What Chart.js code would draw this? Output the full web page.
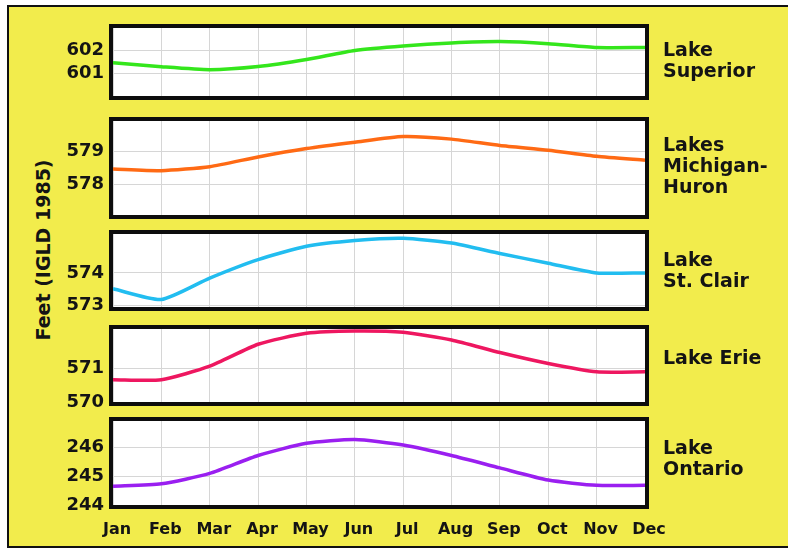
<!DOCTYPE html>
<html>
<head>
<meta charset="utf-8">
<script src="https://cdn.jsdelivr.net/npm/chart.js@4"></script>
<style>
  html, body { margin: 0; padding: 0; background: #ffffff; }
  #wrap { position: relative; width: 788px; height: 550px; overflow: hidden; background: #ffffff; }
  #frame { position: absolute; left: 7px; top: 5px; width: 781px; height: 543px; box-sizing: border-box;
           background: #f2ec4c; border-top: 2px solid #111; border-left: 2px solid #111; border-bottom: 2px solid #111; }
  canvas { position: absolute; }
  .lake { position: absolute; left: 663px; font-family: "DejaVu Sans", sans-serif; font-weight: bold;
          font-size: 19px; line-height: 21px; color: #141414; white-space: nowrap; }
  #ytitle { position: absolute; left: 43px; top: 250px; transform: translate(-50%, -50%) rotate(-90deg);
            font-family: "DejaVu Sans", sans-serif; font-weight: bold; font-size: 19px; color: #141414; white-space: nowrap; }
</style>
</head>
<body>
<div id="wrap">
  <div id="frame"></div>
  <div id="ytitle">Feet (IGLD 1985)</div>
  <canvas id="c1"></canvas>
  <canvas id="c2"></canvas>
  <canvas id="c3"></canvas>
  <canvas id="c4"></canvas>
  <canvas id="c5"></canvas>
  <div class="lake" style="top:39px">Lake<br>Superior</div>
  <div class="lake" style="top:134px">Lakes<br>Michigan-<br>Huron</div>
  <div class="lake" style="top:249px">Lake<br>St. Clair</div>
  <div class="lake" style="top:347px">Lake Erie</div>
  <div class="lake" style="top:437px">Lake<br>Ontario</div>
</div>
<script>
// ---- data ----
const months = ['Jan','Feb','Mar','Apr','May','Jun','Jul','Aug','Sep','Oct','Nov','Dec'];
const superior      = [601.47, 601.29, 601.16, 601.30, 601.61, 602.01, 602.21, 602.34, 602.40, 602.31, 602.14, 602.14];
const michiganHuron = [578.47, 578.42, 578.54, 578.83, 579.08, 579.27, 579.44, 579.36, 579.17, 579.03, 578.85, 578.73];
const stClair       = [573.51, 573.18, 573.84, 574.41, 574.82, 575.00, 575.07, 574.92, 574.60, 574.30, 574.00, 574.00];
const erie          = [570.67, 570.67, 571.08, 571.74, 572.07, 572.14, 572.10, 571.87, 571.49, 571.16, 570.91, 570.91];
const ontario       = [244.65, 244.73, 245.09, 245.71, 246.13, 246.26, 246.07, 245.71, 245.28, 244.86, 244.68, 244.68];

const superiorTicks = [601, 602];
const michiganTicks = [578, 579];
const stClairTicks  = [573, 574];
const erieTicks     = [570, 571];
const ontarioTicks  = [244, 245, 246];

// ---- styling / layout ----
const FONT = '"DejaVu Sans", sans-serif';
const panels = [
  { id: 'c1', data: superior,      color: '#34e61c', min: 600.0,  max: 603.0,  ticks: superiorTicks, top: 28,  bottom: 96 },
  { id: 'c2', data: michiganHuron, color: '#ff6a14', min: 577.1,  max: 579.9,  ticks: michiganTicks, top: 121, bottom: 215 },
  { id: 'c3', data: stClair,       color: '#22bdf0', min: 572.95, max: 575.2,  ticks: stClairTicks,  top: 234, bottom: 307 },
  { id: 'c4', data: erie,          color: '#ee1760', min: 570.0,  max: 572.2,  ticks: erieTicks,     top: 329, bottom: 402 },
  { id: 'c5', data: ontario,       color: '#9a1ff0', min: 244.0,  max: 246.9,  ticks: ontarioTicks,  top: 421, bottom: 505, last: true }
];

const panelPlugin = {
  id: 'panelFrame',
  beforeDraw(chart) {
    const a = chart.chartArea, ctx = chart.ctx;
    ctx.save();
    ctx.fillStyle = '#ffffff';
    ctx.fillRect(a.left, a.top, a.right - a.left, a.bottom - a.top);
    ctx.restore();
  },
  afterDraw(chart) {
    const a = chart.chartArea, ctx = chart.ctx;
    ctx.save();
    ctx.strokeStyle = '#0d0d0d';
    ctx.lineWidth = 4;
    ctx.strokeRect(a.left - 2, a.top - 2, a.right - a.left + 4, a.bottom - a.top + 4);
    ctx.restore();
  }
};

const CANVAS_LEFT = 40, PAD_R = 40, CANVAS_W = 645, PAD = 26, XAXIS_H = 40;

panels.forEach(p => {
  const cv = document.getElementById(p.id);
  const top = p.top - PAD;
  const h = p.last ? (p.bottom - top + XAXIS_H) : (p.bottom - p.top + 2 * PAD);
  cv.width = CANVAS_W; cv.height = h;
  cv.style.left = CANVAS_LEFT + 'px'; cv.style.top = top + 'px';
  cv.style.width = CANVAS_W + 'px'; cv.style.height = h + 'px';

  new Chart(cv, {
    type: 'line',
    data: {
      labels: months,
      datasets: [{
        data: p.data,
        borderColor: p.color,
        borderWidth: 3.5,
        pointRadius: 0,
        tension: 0.2,
        fill: false
      }]
    },
    options: {
      responsive: false,
      animation: false,
      events: [],
      layout: { padding: { left: 0, right: PAD_R, top: PAD, bottom: p.last ? 0 : PAD } },
      plugins: { legend: { display: false }, tooltip: { enabled: false } },
      scales: {
        x: {
          offset: false,
          grid: { color: '#d6d6d6', lineWidth: 1, drawTicks: false, offset: false },
          border: { display: false },
          ticks: {
            display: !!p.last,
            color: '#141414',
            font: { family: FONT, weight: 'bold', size: 16 },
            padding: 15,
            labelOffset: 4,
            maxRotation: 0,
            autoSkip: false
          },
          afterFit: (s) => { s.height = p.last ? XAXIS_H : 0; }
        },
        y: {
          min: p.min,
          max: p.max,
          grid: { color: '#d6d6d6', lineWidth: 1, drawTicks: false },
          border: { display: false },
          ticks: {
            color: '#141414',
            font: { family: FONT, weight: 'bold', size: 18 },
            padding: 9
          },
          afterBuildTicks: (s) => { s.ticks = p.ticks.map(v => ({ value: v })); },
          afterFit: (s) => { s.width = 73; }
        }
      }
    },
    plugins: [panelPlugin]
  });
});
</script>
</body>
</html>
